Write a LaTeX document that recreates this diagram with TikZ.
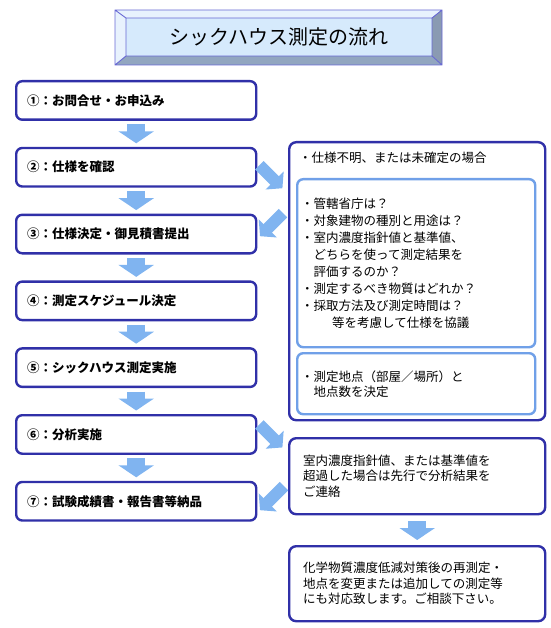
\documentclass[tikz,border=0pt]{standalone}
\usepackage{fontspec}
\setmainfont{Noto Sans CJK JP}
\usetikzlibrary{positioning,arrows.meta,calc}

\definecolor{boxnavy}{RGB}{48,48,168}
\definecolor{boxsky}{RGB}{112,160,232}
\definecolor{arrowsky}{RGB}{128,180,240}
\definecolor{titleface}{RGB}{214,234,252}
\definecolor{titlelight}{RGB}{232,242,253}
\definecolor{titleshade}{RGB}{146,166,192}
\definecolor{titleside}{RGB}{138,154,178}
\definecolor{titleline}{RGB}{104,104,212}

\tikzset{
	stepbox/.style={draw=boxnavy, line width=2.4pt, rounded corners=6pt, fill=white,
		minimum height=38.5pt, text width=218pt, inner xsep=11pt, align=left,
		anchor=north west, font=\bfseries\fontsize{12.5}{15}\selectfont},
	outerbox/.style={draw=boxnavy, line width=2.4pt, rounded corners=7pt, fill=white,
		anchor=north west, inner sep=0pt},
	innerbox/.style={draw=boxsky, line width=2.4pt, rounded corners=6pt, fill=white,
		anchor=north west, text width=230pt, inner xsep=4pt, align=left,
		font=\fontsize{12.5}{17}\selectfont},
	notebox/.style={draw=boxnavy, line width=2.4pt, rounded corners=7pt, fill=white,
		anchor=north west, text width=228pt, inner xsep=14pt, align=left,
		font=\fontsize{12.5}{15.5}\selectfont},
	downarrow/.style={draw=arrowsky, line width=18pt, line cap=butt,
		-{Triangle[width=35pt,length=12pt]}, shorten <=3.5pt, shorten >=3.5pt},
	diagarrow/.style={draw=arrowsky, line width=12pt, line cap=butt,
		-{Triangle[width=25pt,length=11pt]}}
}

\begin{document}
\begin{tikzpicture}[x=1pt,y=-1pt]
	\useasboundingbox (0,0) rectangle (550,628);
	
	% title plate with bevelled edge
	\fill[titlelight] (115,10) -- (442,10) -- (432,18) -- (126,18) -- cycle;
	\fill[titlelight] (115,10) -- (126,18) -- (126,56) -- (115,65) -- cycle;
	\fill[titleshade] (115,65) -- (126,56) -- (432,56) -- (442,65) -- cycle;
	\fill[titleside] (442,10) -- (442,65) -- (432,56) -- (432,18) -- cycle;
	\fill[titleface] (126,18) rectangle (432,56);
	\draw[titleline, line width=0.9pt] (115,10) rectangle (442,65)
		(126,18) rectangle (432,56)
		(115,10) -- (126,18) (442,10) -- (432,18)
		(115,65) -- (126,56) (442,65) -- (432,56);
	\node[font=\fontsize{20}{24}\selectfont] (title) at (279,37) {シックハウス測定の流れ};
	
	% the seven steps on the left
	\foreach \i/\txt in {1/①：お問合せ・お申込み, 2/②：仕様を確認,
		3/③：仕様決定・御見積書提出, 4/④：測定スケジュール決定,
		5/⑤：シックハウス測定実施, 6/⑥：分析実施, 7/⑦：試験成績書・報告書等納品}{%
		\node[stepbox] (s\i) at (15,{80+66.8*(\i-1)}) {\txt};
	}
	\foreach \i [count=\j from 2] in {1,...,6}{% one arrow between each pair
		\draw[downarrow] (s\i.south) -- (s\j.north);
	}
	
	% frame for the unclear specification
	\node[outerbox, minimum width=256pt, minimum height=278pt] (spec) at (288,141) {};
	\node[anchor=west, inner sep=0pt, font=\fontsize{12.5}{15}\selectfont] (spechead)
		at (299,158) {・仕様不明、または未確定の場合};
	\node[innerbox, minimum height=168pt] (check) at (296,178)
		{・管轄省庁は？\\
		・対象建物の種別と用途は？\\
		・室内濃度指針値と基準値、\\
		\hspace{12.5pt}どちらを使って測定結果を\\
		\hspace{12.5pt}評価するのか？\\
		・測定するべき物質はどれか？\\
		・採取方法及び測定時間は？\\
		\hspace{31pt}等を考慮して仕様を協議};
	\node[innerbox, minimum height=61pt, font=\fontsize{12.5}{15}\selectfont] (points)
		at (296,352) {・測定地点（部屋／場所）と\\
		\hspace{12.5pt}地点数を決定};
	
	% follow-up boxes
	\node[notebox, minimum height=76pt] (note) at (288,437)
		{室内濃度指針値、または基準値を\\超過した場合は先行で分析結果を\\ご連絡};
	\node[notebox, minimum height=75pt] (extra) at (288,545)
		{化学物質濃度低減対策後の再測定・\\地点を変更または追加しての測定等\\にも対応致します。ご相談下さい。};
	\draw[downarrow, shorten <=6pt, shorten >=5pt] (note.south) -- (extra.north);
	
	% side arrows
	\draw[diagarrow] (s2.east) ++(2,-2) -- ++(23,23);
	\draw[diagarrow] (spec.west) ++(-5,-68) -- ++(-23,23);
	\draw[diagarrow] (s6.east) ++(2,-10) -- ++(23,23);
	\draw[diagarrow] (note.west) ++(-4,10) -- ++(-24,24);
\end{tikzpicture}
\end{document}
